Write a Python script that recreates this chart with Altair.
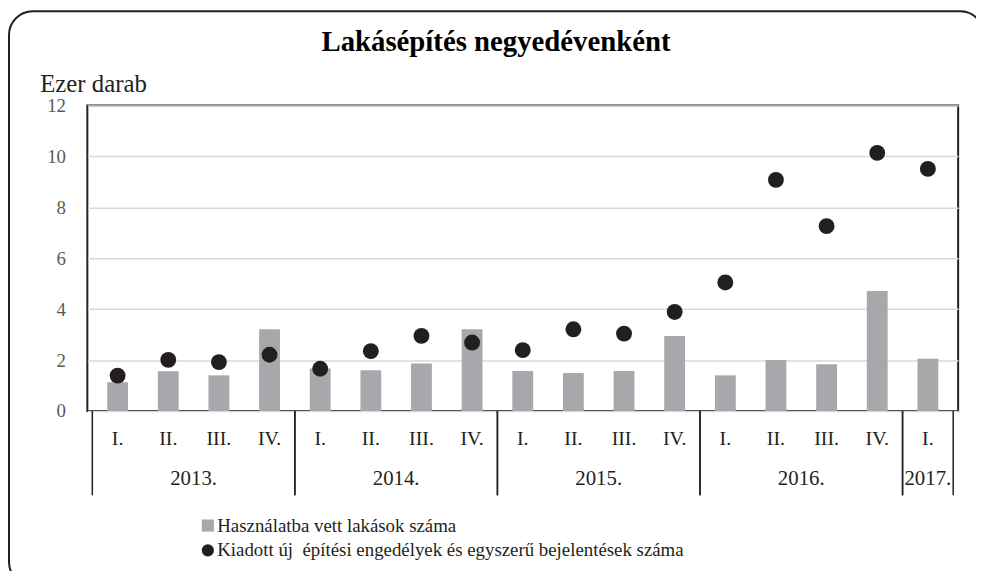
import altair as alt
import pandas as pd

# ---- data ----
years = ["2013.", "2013.", "2013.", "2013.",
         "2014.", "2014.", "2014.", "2014.",
         "2015.", "2015.", "2015.", "2015.",
         "2016.", "2016.", "2016.", "2016.",
         "2017."]
quarters = ["I.", "II.", "III.", "IV.",
            "I.", "II.", "III.", "IV.",
            "I.", "II.", "III.", "IV.",
            "I.", "II.", "III.", "IV.",
            "I."]
completed = [1.13, 1.56, 1.40, 3.21,
             1.67, 1.60, 1.87, 3.21,
             1.57, 1.49, 1.57, 2.95,
             1.40, 2.00, 1.84, 4.71,
             2.05]
permits = [1.39, 2.01, 1.92, 2.21,
           1.66, 2.35, 2.95, 2.69,
           2.39, 3.21, 3.04, 3.89,
           5.05, 9.08, 7.26, 10.14,
           9.51]
series_names = ["Használatba vett lakások száma",
                "Kiadott új\u00a0 építési engedélyek és egyszerű bejelentések száma"]
y_ticks = [0, 2, 4, 6, 8, 10, 12]
title_text = "Lakásépítés negyedévenként"
y_title = "Ezer darab"

FONT = "Liberation Serif"
INK = "#231f20"
BAR = "#a7a8ab"
W, H = 878, 308

idx = list(range(len(quarters)))
base = pd.DataFrame({"idx": idx, "year": years, "quarter": quarters})
long = pd.concat([
    pd.DataFrame({"idx": idx, "series": series_names[0], "value": completed}),
    pd.DataFrame({"idx": idx, "series": series_names[1], "value": permits}),
])

x_scale = alt.Scale(domain=[-0.5, len(quarters) - 0.5], nice=False, zero=False)
y_enc = alt.Y("value:Q",
              scale=alt.Scale(domain=[0, 12], nice=False),
              axis=alt.Axis(values=y_ticks, title=y_title, grid=True,
                            gridColor="#d9d9d9", gridWidth=1.5,
                            domain=False, ticks=False,
                            labelFont=FONT, labelFontSize=19, labelColor="#595959",
                            labelPadding=22,
                            titleFont=FONT, titleFontSize=25, titleFontWeight="normal",
                            titleColor=INK, titleAngle=0, titleAlign="left",
                            titleBaseline="alphabetic", titleX=-48, titleY=-14))
legend = alt.Legend(title=None, orient="none", legendX=112, legendY=414,
                    direction="vertical", labelFont=FONT, labelFontSize=19,
                    labelColor=INK, labelLimit=0, symbolSize=150, rowPadding=5,
                    labelOffset=0, padding=0, symbolStrokeWidth=0)
color_enc = alt.Color("series:N",
                      scale=alt.Scale(domain=series_names, range=[BAR, INK]),
                      legend=legend)
shape_enc = alt.Shape("series:N",
                      scale=alt.Scale(domain=series_names, range=["square", "circle"]),
                      legend=legend)

bars = alt.Chart(long).transform_filter(
    alt.datum.series == series_names[0]
).mark_bar(size=21).encode(
    x=alt.X("idx:Q", scale=x_scale, axis=None),
    y=y_enc,
    color=color_enc,
)

dots = alt.Chart(long).transform_filter(
    alt.datum.series == series_names[1]
).mark_point(filled=True, size=256, opacity=1, strokeWidth=0).encode(
    x=alt.X("idx:Q", scale=x_scale, axis=None),
    y=y_enc,
    color=color_enc,
    shape=shape_enc,
)

q_labels = alt.Chart(base).mark_text(
    font=FONT, fontSize=20, color=INK, baseline="middle"
).encode(
    x=alt.X("idx:Q", scale=x_scale, axis=None),
    y=alt.value(336),
    text="quarter:N",
)

y_labels = alt.Chart(base).transform_aggregate(
    cx="mean(idx)", groupby=["year"]
).mark_text(
    font=FONT, fontSize=21, color=INK, baseline="middle"
).encode(
    x=alt.X("cx:Q", scale=x_scale, axis=None),
    y=alt.value(377),
    text="year:N",
)

separators = alt.Chart(base).transform_aggregate(
    lo="min(idx)", hi="max(idx)", groupby=["year"]
).transform_calculate(
    left="datum.lo - 0.5", right="datum.hi + 0.5"
).transform_fold(
    ["left", "right"], as_=["side", "pos"]
).mark_rule(color=INK, strokeWidth=1.5).encode(
    x=alt.X("pos:Q", scale=x_scale, axis=None),
    y=alt.value(H),
    y2=alt.value(H + 85),
)

border = alt.Chart(alt.Data(values=[{}])).mark_rect(
    fillOpacity=0, stroke=INK, strokeWidth=2, cornerRadius=24
).encode(
    x=alt.value(-79), x2=alt.value(W + 26),
    y=alt.value(-95), y2=alt.value(H + 176),
)

chart = alt.layer(bars, dots, q_labels, y_labels, separators, border).properties(
    width=W, height=H,
    padding={"left": 80, "top": 96, "right": 18, "bottom": 159},
    autosize=alt.AutoSizeParams(type="none"),
    title=alt.TitleParams(title_text, font=FONT, fontSize=29, fontWeight="bold",
                          color="black", anchor="middle", frame="group",
                          baseline="alphabetic", offset=17, dx=-27, dy=87),
).configure(font=FONT).configure_axis(labelFont=FONT, titleFont=FONT).configure_view(
    stroke=INK, strokeWidth=2)

chart.save("out.html", embed_options={"renderer": "svg", "actions": False})
